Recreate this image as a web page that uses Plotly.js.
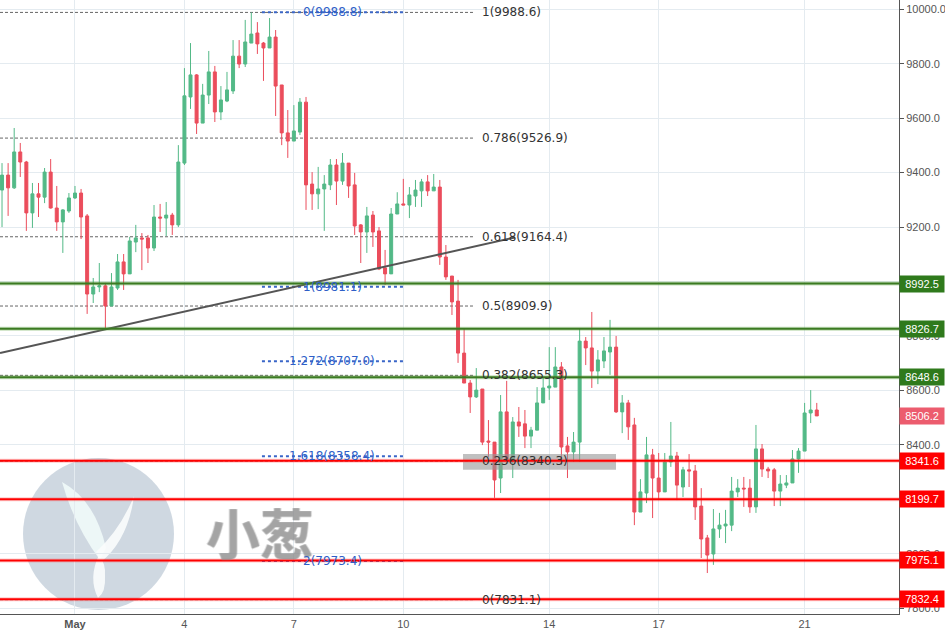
<!DOCTYPE html>
<html>
<head>
<meta charset="utf-8">
<script src="https://cdn.plot.ly/plotly-3.0.1.min.js"></script>
<style>html,body{margin:0;padding:0;background:#fff}#chart{width:945px;height:635px}</style>
</head>
<body>
<div id="chart"></div>
<script>
// ---- data: BTC 4h candles, 29 Apr - 21 May 2018 ----
const firstCandle = '2018-04-29T00:00:00Z';
const candleHours = 4;
const open = [9336,9391,9344,9476,9439,9252,9322,9310,9402,9270,
9219,9259,9307,9325,9241,8954,8980,8984,8910,8976,
9072,9028,9145,9160,9160,9123,9237,9233,9244,9208,
9435,9678,9759,9582,9685,9770,9623,9663,9700,9828,
9799,9876,9913,9876,9858,9898,9722,9546,9516,9549,
9659,9358,9322,9340,9355,9428,9369,9435,9355,9208,
9182,9244,9186,9050,9028,9248,9285,9281,9314,9333,
9366,9333,9347,9090,9020,8928,8737,8627,8576,8605,
8414,8410,8278,8521,8344,8484,8477,8432,8454,8554,
8609,8612,8686,8396,8374,8410,8781,8756,8671,8708,
8741,8759,8521,8554,8473,8153,8223,8363,8278,8227,
8337,8359,8245,8308,8304,8175,8058,7999,8091,8102,
8105,8227,8241,8241,8172,8385,8311,8308,8230,8252,
8260,8348,8377,8517,8528];
const high = [9435,9435,9564,9509,9443,9362,9362,9417,9450,9351,
9266,9325,9351,9340,9248,9013,9068,8995,9031,9101,
9101,9164,9208,9178,9171,9281,9285,9292,9252,9501,
9784,9876,9762,9726,9847,9792,9718,9770,9887,9887,
9961,9988.6,9953,9880,9968,9924,9722,9630,9648,9674,
9678,9402,9421,9391,9450,9450,9472,9435,9399,9211,
9274,9259,9200,9116,9270,9328,9377,9347,9373,9377,
9391,9395,9373,9134,9020,9006,8829,8638,8682,8605,
8491,8410,8583,8635,8502,8539,8528,8466,8612,8646,
8759,8759,8704,8429,8447,8829,8796,8888,8748,8796,
8859,8800,8583,8565,8499,8274,8429,8385,8370,8370,
8484,8374,8319,8366,8326,8241,8069,8164,8150,8161,
8282,8274,8282,8274,8473,8403,8319,8315,8289,8289,
8381,8388,8554,8601,8554];
const low = [9200,9241,9340,9384,9186,9197,9237,9288,9268,9186,
9105,9252,9303,9156,8881,8921,8961,8822,8910,8969,
8969,9028,9108,9042,9068,9112,9182,9167,9171,9200,
9428,9634,9542,9582,9652,9586,9593,9659,9689,9784,
9788,9876,9836,9737,9858,9608,9501,9454,9516,9538,
9263,9263,9266,9186,9336,9281,9355,9307,9171,9068,
9105,9127,9042,8987,9028,9248,9281,9233,9274,9274,
9314,9333,9061,9006,8877,8701,8627,8517,8572,8399,
8355,8205,8223,8341,8278,8429,8388,8388,8454,8554,
8565,8612,8326,8278,8337,8337,8693,8609,8623,8682,
8657,8517,8443,8418,8105,8153,8186,8131,8197,8227,
8319,8197,8208,8245,8124,7984,7929,7959,8058,8039,
8083,8208,8172,8150,8150,8282,8278,8175,8175,8241,
8260,8297,8377,8480,8506];
const close = [9391,9344,9476,9439,9252,9322,9310,9402,9270,9219,
9263,9307,9325,9237,8954,8980,8984,8910,8980,9072,
9028,9149,9160,9156,9123,9237,9233,9244,9208,9439,
9682,9759,9582,9685,9770,9623,9667,9704,9828,9799,
9880,9909,9873,9858,9898,9718,9546,9516,9553,9659,
9355,9322,9340,9358,9428,9369,9435,9351,9204,9182,
9241,9182,9046,9028,9248,9285,9281,9318,9336,9366,
9333,9347,9090,9017,8925,8737,8627,8576,8601,8410,
8410,8271,8521,8341,8484,8469,8432,8454,8554,8609,
8616,8686,8392,8374,8410,8781,8756,8671,8712,8745,
8759,8521,8554,8466,8153,8227,8363,8278,8227,8337,
8359,8252,8308,8304,8172,8054,7995,8091,8105,8109,
8230,8241,8238,8172,8385,8311,8304,8230,8256,8260,
8348,8377,8517,8528,8506.2];

// x-axis ticks
const tickDates = ['2018-05-01','2018-05-04','2018-05-07','2018-05-10','2018-05-14','2018-05-17','2018-05-21'];
const tickLabels = ['<b>May</b>','4','7','10','14','17','21'];

// y-axis ticks (9000 and 8200 are fully covered by level boxes)
const yTicks = [7800,8000,8200,8400,8600,8800,9000,9200,9400,9600,9800,10000];
const yTickLabels = ['7800.0','8000.0','','8400.0','8600.0','8800.0','','9200.0','9400.0','9600.0','9800.0','10000.0'];

// support / resistance levels (right-axis labels)
const greenLevels = [8992.5, 8826.7, 8648.6];
const redLevels = [8341.6, 8199.7, 7975.1, 7832.4];
const lastPrice = 8506.2;

// Fibonacci retracement (black) and extension (blue)
const fibRatios = ['1','0.786','0.618','0.5','0.382','0.236','0'];
const fibPrices = [9988.6, 9526.9, 9164.4, 8909.9, 8655.3, 8340.3, 7831.1];
const extRatios = ['0','1','1.272','1.618','2'];
const extPrices = [9988.8, 8981.1, 8707.0, 8358.4, 7973.4];

// trend line
const trendStart = ['2018-04-28 22:40', 8737];
const trendEnd = ['2018-05-13 01:28', 9162];

// ---- build ----
const t0 = Date.parse(firstCandle);
const times = open.map((_, i) => new Date(t0 + i * candleHours * 3600e3).toISOString().slice(0, 16).replace('T', ' '));

const xRange = ['2018-04-28 22:40', '2018-05-23 14:06'];
const yRange = [7778.5, 10034.2];
const fibEnd = '2018-05-11 21:50';
const fibLabelX = '2018-05-12 02:24';
const extStart = '2018-05-06 03:00', extEnd = '2018-05-09 23:47', extLabelX = '2018-05-08 01:06';

const PW = 899, PH = 614;
const P = (x, y) => (x / PW).toFixed(4) + ',' + (1 - y / PH).toFixed(4);

const shapes = [];
const annotations = [];

// watermark
shapes.push({type: 'circle', xref: 'paper', yref: 'paper', x0: 23 / PW, x1: 174 / PW, y0: 1 - 610 / PH, y1: 1 - 458 / PH,
  fillcolor: 'rgba(160,178,196,0.5)', line: {width: 0}, layer: 'below'});
shapes.push({type: 'path', xref: 'paper', yref: 'paper', layer: 'below', fillcolor: 'rgba(240,250,248,0.92)', line: {width: 0},
  path: `M ${P(62,482)} Q ${P(95,500)} ${P(106,548)} L ${P(100,560)} Q ${P(74,525)} ${P(62,482)} Z`});
shapes.push({type: 'path', xref: 'paper', yref: 'paper', layer: 'below', fillcolor: 'rgba(250,252,252,0.92)', line: {width: 0},
  path: `M ${P(134,496)} Q ${P(128,540)} ${P(101,562)} L ${P(96,552)} Q ${P(120,530)} ${P(134,496)} Z`});
shapes.push({type: 'path', xref: 'paper', yref: 'paper', layer: 'below', fillcolor: 'rgba(250,252,252,0.92)', line: {width: 0},
  path: `M ${P(99,555)} Q ${P(88,578)} ${P(98,598)} Q ${P(106,592)} ${P(105,576)} Q ${P(106,564)} ${P(99,555)} Z`});
annotations.push({xref: 'paper', yref: 'paper', x: 260 / PW, y: 1 - 531 / PH, text: '<b>小葱</b>', showarrow: false,
  font: {family: 'Noto Sans CJK SC', size: 54, color: 'rgba(140,140,140,0.5)', weight: 'bold',
    shadow: '1px 0 0 rgba(140,140,140,0.5), -1px 0 0 rgba(140,140,140,0.5), 0 1px 0 rgba(140,140,140,0.5)'},
  xanchor: 'center', yanchor: 'middle'});

// highlight box behind 0.236 label
shapes.push({type: 'rect', xref: 'x', yref: 'y', x0: '2018-05-11 15:16', x1: '2018-05-15 19:55', y0: 8308, y1: 8366,
  fillcolor: 'rgba(150,150,150,0.6)', line: {width: 0}, layer: 'above'});

// fib retracement
fibPrices.forEach((p, i) => {
  shapes.push({type: 'line', xref: 'x', yref: 'y', x0: xRange[0], x1: fibEnd, y0: p, y1: p,
    line: {color: '#666', width: 1, dash: '3px,2px'}, layer: 'below'});
  annotations.push({xref: 'x', yref: 'y', x: fibLabelX, y: p, text: fibRatios[i] + '(' + p.toFixed(1) + ')', showarrow: false,
    xanchor: 'left', yanchor: 'middle', font: {family: 'DejaVu Sans', size: 12, color: '#333'}});
});

// fib extension
extPrices.forEach((p, i) => {
  shapes.push({type: 'line', xref: 'x', yref: 'y', x0: extStart, x1: extEnd, y0: p, y1: p,
    line: {color: '#3a66c8', width: 2, dash: 'dot'}, layer: 'above'});
  annotations.push({xref: 'x', yref: 'y', x: extLabelX, y: p, text: extRatios[i] + '(' + p.toFixed(1) + ')', showarrow: false,
    xanchor: 'center', yanchor: 'middle', font: {family: 'DejaVu Sans', size: 12, color: '#2f5fc8'}});
});

// trend line
shapes.push({type: 'line', xref: 'x', yref: 'y', x0: trendStart[0], y0: trendStart[1], x1: trendEnd[0], y1: trendEnd[1],
  line: {color: '#555', width: 2}, layer: 'above'});

// horizontal levels + right axis boxes
function level(p, col, halo, box) {
  shapes.push({type: 'line', xref: 'paper', yref: 'y', x0: 0, x1: 1, y0: p, y1: p, line: {color: halo, width: 4}, layer: 'above'});
  shapes.push({type: 'line', xref: 'paper', yref: 'y', x0: 0, x1: 1, y0: p, y1: p, line: {color: col, width: 2}, layer: 'above'});
  annotations.push({xref: 'paper', yref: 'y', x: 1, y: p, xanchor: 'left', yanchor: 'middle', text: p.toFixed(1), showarrow: false,
    bgcolor: box, width: 42, height: 14, borderpad: 1, align: 'center',
    font: {family: 'Liberation Sans, Arial', size: 11, color: '#fff'}});
}
greenLevels.forEach(p => level(p, '#3b7a22', 'rgba(90,160,60,0.35)', '#2f7a1c'));
redLevels.forEach(p => level(p, '#ff0000', 'rgba(255,80,80,0.3)', '#ff0000'));
annotations.push({xref: 'paper', yref: 'y', x: 1, y: lastPrice, xanchor: 'left', yanchor: 'middle', text: lastPrice.toFixed(1), showarrow: false,
  bgcolor: '#ec5c6e', width: 42, height: 14, borderpad: 1, align: 'center',
  font: {family: 'Liberation Sans, Arial', size: 11, color: '#fff'}});

const trace = {
  type: 'candlestick', x: times, open, high, low, close,
  increasing: {line: {color: '#53b987', width: 1}, fillcolor: '#53b987'},
  decreasing: {line: {color: '#eb4d5c', width: 1}, fillcolor: '#eb4d5c'},
  whiskerwidth: 0, hoverinfo: 'skip', showlegend: false
};

const layout = {
  width: 945, height: 635,
  margin: {l: 0, r: 46, t: 0, b: 21, pad: 0},
  paper_bgcolor: '#fff', plot_bgcolor: '#fff',
  showlegend: false, dragmode: false, hovermode: false,
  xaxis: {type: 'date', range: xRange, tickvals: tickDates, ticktext: tickLabels,
    showgrid: true, gridcolor: '#e4ebf0', gridwidth: 1, showline: true, linecolor: '#555', linewidth: 1,
    ticks: '', zeroline: false, rangeslider: {visible: false}, fixedrange: true,
    tickfont: {family: 'Liberation Sans, Arial', size: 11, color: '#555'}},
  yaxis: {side: 'right', range: yRange, tickvals: yTicks, ticktext: yTickLabels,
    showgrid: true, gridcolor: '#e4ebf0', gridwidth: 1, showline: true, linecolor: '#555', linewidth: 1,
    ticks: 'outside', ticklen: 4, tickcolor: '#555', zeroline: false, fixedrange: true,
    tickfont: {family: 'Liberation Sans, Arial', size: 11, color: '#555'}},
  shapes, annotations
};

Plotly.newPlot('chart', [trace], layout, {displayModeBar: false, staticPlot: true});
</script>
</body>
</html>
